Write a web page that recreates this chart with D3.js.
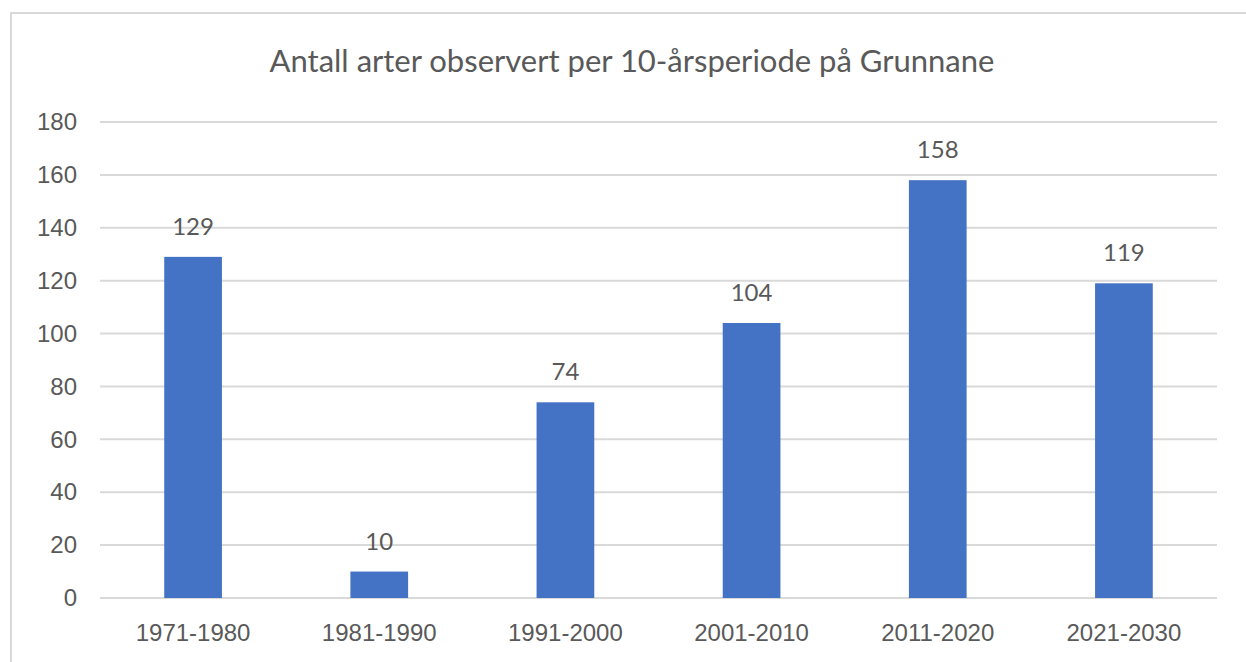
<!DOCTYPE html>
<html>
<head>
<meta charset="utf-8">
<script src="https://cdn.jsdelivr.net/npm/d3@7"></script>
<style>
  body { margin: 0; background: #fff; }
  svg { display: block; font-family: Lato, "Open Sans", sans-serif; }
</style>
</head>
<body>
<div id="chart"></div>
<script>
// Antall arter per tiårsperiode
const title = 'Antall arter observert per 10-årsperiode på Grunnane'
const periods = ['1971-1980', '1981-1990', '1991-2000', '2001-2010', '2011-2020', '2021-2030']
const counts = [129, 10, 74, 104, 158, 119]
const yTicks = [0, 20, 40, 60, 80, 100, 120, 140, 160, 180]

const width = 1246, height = 662
const margin = { left: 100, right: 29, top: 122, bottom: 64 }
const textColor = '#595959'

const svg = d3.select('#chart')
    .append('svg')
    .attr('width', width)
    .attr('height', height)

// chart border (only left and top are inside the crop)
svg.append('rect')
    .attr('x', 11).attr('y', 13)
    .attr('width', width + 20).attr('height', height + 20)
    .attr('fill', 'none')
    .attr('stroke', '#d9d9d9')
    .attr('stroke-width', 2)

const x = d3.scaleBand()
    .domain(periods)
    .range([margin.left, width - margin.right])
    .paddingInner(0.69)
    .paddingOuter(0.345)

const y = d3.scaleLinear()
    .domain([0, 180])
    .range([height - margin.bottom, margin.top])

// gridlines
svg.append('g')
    .selectAll('line')
    .data(yTicks)
    .enter()
    .append('line')
    .attr('x1', margin.left)
    .attr('x2', width - margin.right)
    .attr('y1', d => y(d))
    .attr('y2', d => y(d))
    .attr('stroke', '#d9d9d9')
    .attr('stroke-width', 2)

const yAxis = d3.axisLeft(y).tickValues(yTicks).tickSize(0).tickPadding(0)
svg.append('g')
    .attr('transform', 'translate(77, 0)')
    .call(yAxis)
    .call(g => g.select('.domain').remove())
    .call(g => g.selectAll('text')
        .attr('fill', textColor)
        .style('font-size', '24px'))

const xAxis = d3.axisBottom(x).tickSize(0).tickPadding(0)
svg.append('g')
    .attr('transform', `translate(0, ${height - margin.bottom + 26})`)
    .call(xAxis)
    .call(g => g.select('.domain').remove())
    .call(g => g.selectAll('text')
        .attr('fill', textColor)
        .style('font-size', '24px'))

svg.selectAll('rect.bar')
    .data(counts)
    .enter()
    .append('rect')
    .attr('class', 'bar')
    .attr('x', (d, i) => x(periods[i]))
    .attr('width', x.bandwidth())
    .attr('y', d => y(d))
    .attr('height', d => y(0) - y(d))
    .attr('fill', '#4472c4')

svg.selectAll('text.value')
    .data(counts)
    .enter()
    .append('text')
    .attr('class', 'value')
    .attr('x', (d, i) => x(periods[i]) + x.bandwidth() / 2)
    .attr('y', d => y(d) - 22)
    .attr('text-anchor', 'middle')
    .attr('fill', textColor)
    .style('font-size', '24px')
    .text(d => d)

svg.append('text')
    .attr('x', 632)
    .attr('y', 72)
    .attr('text-anchor', 'middle')
    .attr('fill', textColor)
    .style('font-size', '31px')
    .text(title)
</script>
</body>
</html>
